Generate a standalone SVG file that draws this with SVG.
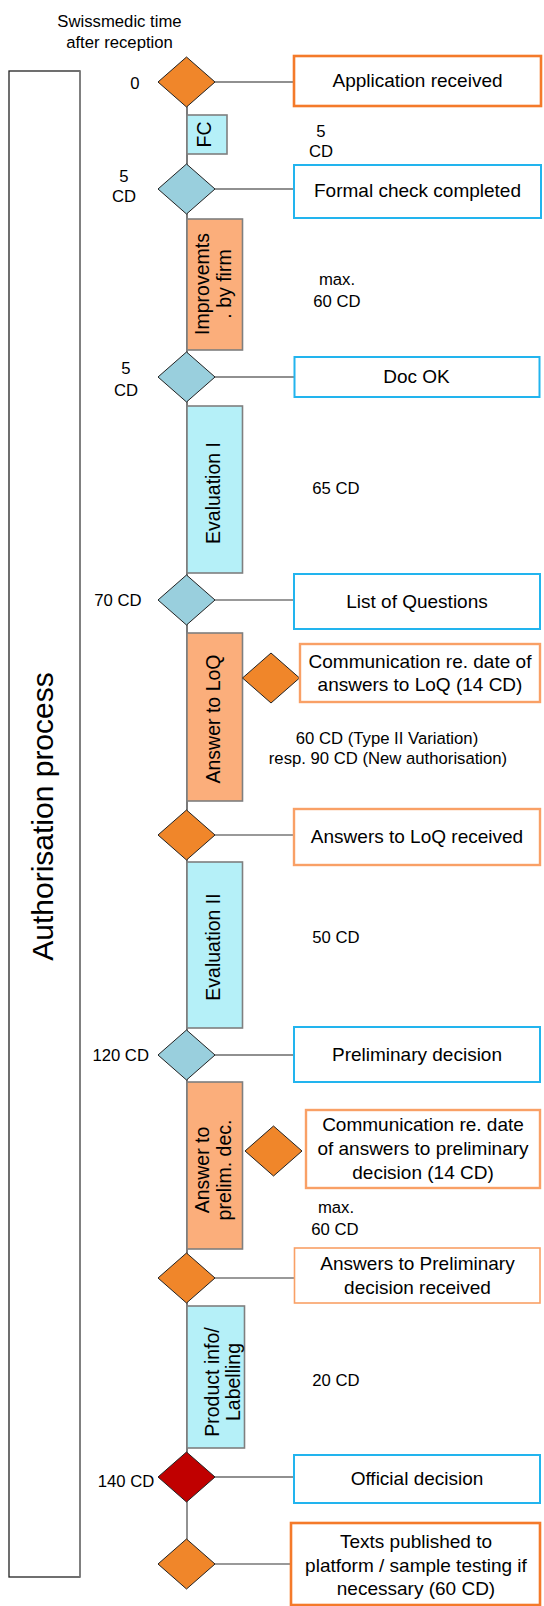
<svg xmlns="http://www.w3.org/2000/svg" width="544" height="1606" viewBox="0 0 544 1606">
<style>
text{font-family:"Liberation Sans",Arial,sans-serif;fill:#000}
.lbl{font-size:16.7px}
.bt{font-size:19px;text-anchor:middle}
.pt{font-size:19.5px;text-anchor:middle}
.c{text-anchor:middle}
.dO{fill:#f0862a;stroke:#222;stroke-width:1}
.dB{fill:#99cfdd;stroke:#222;stroke-width:1}
.dR{fill:#c00000;stroke:#222;stroke-width:1}
.pC{fill:#b5f0f8;stroke:#7f7f7f;stroke-width:1.6}
.pS{fill:#fbae7b;stroke:#7f7f7f;stroke-width:1.6}
.bO{fill:#fff;stroke:#f47a2a;stroke-width:2.6}
.bL{fill:#fff;stroke:#f9a066;stroke-width:2.4}
.bT{fill:#fff;stroke:#f9a066;stroke-width:1.6}
.bB{fill:#fff;stroke:#22b4ee;stroke-width:2}
.cn{stroke:#222;stroke-width:1.2;fill:none}
.cg{stroke:#777;stroke-width:1.6;fill:none}
</style>
<defs>
<path id="dia" d="M0,-25 L28.5,0 L0,25 L-28.5,0 Z"/>
</defs>

<g id="header">
<text class="lbl c" x="119.5" y="26.7">Swissmedic time</text>
<text class="lbl c" x="119.5" y="47.7">after reception</text>
</g>

<g id="lane">
<rect x="9" y="71" width="71" height="1506" fill="#fff" stroke="#222" stroke-width="1.3"/>
<line x1="80" y1="71" x2="80" y2="1577" stroke="#888" stroke-width="1.4"/>
<text x="0" y="0" font-size="30" text-anchor="middle" transform="translate(53,816.5) rotate(-90)">Authorisation process</text>
</g>

<g id="connectors">
<line class="cn" x1="187" y1="82" x2="187" y2="1477"/>
<line class="cg" x1="187" y1="1477" x2="187" y2="1564"/>
<line class="cn" x1="215" y1="82" x2="294" y2="82"/>
<line class="cn" x1="215" y1="189" x2="294" y2="189"/>
<line class="cn" x1="215" y1="377" x2="294" y2="377"/>
<line class="cg" x1="215" y1="600" x2="294" y2="600"/>
<line class="cg" x1="215" y1="835" x2="294" y2="835"/>
<line class="cn" x1="215" y1="1055" x2="294" y2="1055"/>
<line class="cg" x1="215" y1="1278" x2="294" y2="1278"/>
<line class="cn" x1="215" y1="1477" x2="294" y2="1477"/>
<line class="cg" x1="215" y1="1564" x2="291" y2="1564"/>
</g>

<g id="m0">
<use href="#dia" class="dO" x="186.5" y="82"/>
<text class="lbl c" x="135" y="89">0</text>
</g>
<g id="b-app">
<rect class="bO" x="294" y="56" width="247" height="50"/>
<text class="bt" x="417.5" y="87">Application received</text>
</g>
<g id="p-fc">
<rect class="pC" x="187" y="115" width="40" height="39"/>
<text class="pt" transform="translate(211,134.5) rotate(-90)">FC</text>
<text class="lbl c" x="321" y="137">5</text>
<text class="lbl c" x="321" y="157">CD</text>
</g>

<g id="m1">
<use href="#dia" class="dB" x="186.5" y="189"/>
<text class="lbl c" x="124" y="182">5</text>
<text class="lbl c" x="124" y="202">CD</text>
</g>
<g id="b-fcc">
<rect class="bB" x="294" y="165" width="247" height="53"/>
<text class="bt" x="417.5" y="197">Formal check completed</text>
</g>
<g id="p-imp">
<rect class="pS" x="187" y="219" width="55.5" height="131"/>
<text class="pt" transform="translate(209,284) rotate(-90)">Improvemts</text>
<text class="pt" transform="translate(231,284) rotate(-90)">. by firm</text>
<text class="lbl c" x="337" y="285">max.</text>
<text class="lbl c" x="337" y="306.5">60 CD</text>
</g>

<g id="m2">
<use href="#dia" class="dB" x="186.5" y="377"/>
<text class="lbl c" x="126" y="374">5</text>
<text class="lbl c" x="126" y="396">CD</text>
</g>
<g id="b-doc">
<rect class="bB" x="294.5" y="357" width="245" height="40"/>
<text class="bt" x="416.5" y="383">Doc OK</text>
</g>
<g id="p-ev1">
<rect class="pC" x="187" y="406" width="55.5" height="167"/>
<text class="pt" transform="translate(220,493) rotate(-90)">Evaluation I</text>
<text class="lbl c" x="336" y="494">65 CD</text>
</g>

<g id="m3">
<use href="#dia" class="dB" x="186.5" y="600"/>
<text class="lbl c" x="118" y="606">70 CD</text>
</g>
<g id="b-loq">
<rect class="bB" x="294" y="574" width="246" height="55"/>
<text class="bt" x="417" y="608">List of Questions</text>
</g>
<g id="p-ans">
<rect class="pS" x="187" y="633" width="55.5" height="168"/>
<text class="pt" transform="translate(220,719) rotate(-90)">Answer to LoQ</text>
<text class="lbl c" x="387" y="744">60 CD (Type II Variation)</text>
<text class="lbl c" x="388" y="764">resp. 90 CD (New authorisation)</text>
</g>
<g id="s1">
<use href="#dia" class="dO" x="271" y="678"/>
</g>
<g id="b-com1">
<rect class="bL" x="300" y="644" width="240" height="58"/>
<text class="bt" x="420" y="667.5">Communication re. date of</text>
<text class="bt" x="420" y="691">answers to LoQ (14 CD)</text>
</g>

<g id="m4">
<use href="#dia" class="dO" x="186.5" y="835"/>
</g>
<g id="b-ansr">
<rect class="bL" x="294" y="809" width="246" height="56"/>
<text class="bt" x="417" y="843">Answers to LoQ received</text>
</g>
<g id="p-ev2">
<rect class="pC" x="187" y="862" width="55.5" height="166"/>
<text class="pt" transform="translate(219.5,947) rotate(-90)">Evaluation II</text>
<text class="lbl c" x="336" y="943">50 CD</text>
</g>

<g id="m5">
<use href="#dia" class="dB" x="186.5" y="1055"/>
<text class="lbl c" x="120.7" y="1061">120 CD</text>
</g>
<g id="b-pre">
<rect class="bB" x="294" y="1027" width="246" height="55"/>
<text class="bt" x="417" y="1061">Preliminary decision</text>
</g>
<g id="p-ansp">
<rect class="pS" x="187" y="1082" width="55.5" height="167"/>
<text class="pt" transform="translate(209,1170) rotate(-90)">Answer to</text>
<text class="pt" transform="translate(231,1170) rotate(-90)">prelim. dec.</text>
<text class="lbl c" x="336" y="1213">max.</text>
<text class="lbl c" x="335" y="1235">60 CD</text>
</g>
<g id="s2">
<use href="#dia" class="dO" x="273.5" y="1151"/>
</g>
<g id="b-com2">
<rect class="bL" x="306" y="1110" width="234" height="78"/>
<text class="bt" x="423" y="1131">Communication re. date</text>
<text class="bt" x="423" y="1155">of answers to preliminary</text>
<text class="bt" x="423" y="1178.5">decision (14 CD)</text>
</g>

<g id="m6">
<use href="#dia" class="dO" x="186.5" y="1278"/>
</g>
<g id="b-ansp">
<rect class="bT" x="294.5" y="1248" width="245.5" height="55"/>
<text class="bt" x="417.5" y="1270">Answers to Preliminary</text>
<text class="bt" x="417.5" y="1293.5">decision received</text>
</g>
<g id="p-pi">
<rect class="pC" x="187" y="1306" width="57.5" height="142"/>
<text class="pt" transform="translate(219,1382) rotate(-90)">Product info/</text>
<text class="pt" transform="translate(240,1382) rotate(-90)">Labelling</text>
<text class="lbl c" x="336" y="1386">20 CD</text>
</g>

<g id="m7">
<use href="#dia" class="dR" x="186.5" y="1477"/>
<text class="lbl c" x="126" y="1487">140 CD</text>
</g>
<g id="b-off">
<rect class="bB" x="294" y="1455" width="246" height="48"/>
<text class="bt" x="417" y="1485">Official decision</text>
</g>

<g id="m8">
<use href="#dia" class="dO" x="186.5" y="1564"/>
</g>
<g id="b-txt">
<rect class="bO" x="291" y="1523" width="249" height="82"/>
<text class="bt" x="416" y="1548">Texts published to</text>
<text class="bt" x="416" y="1572">platform / sample testing if</text>
<text class="bt" x="416" y="1595">necessary (60 CD)</text>
</g>
</svg>
